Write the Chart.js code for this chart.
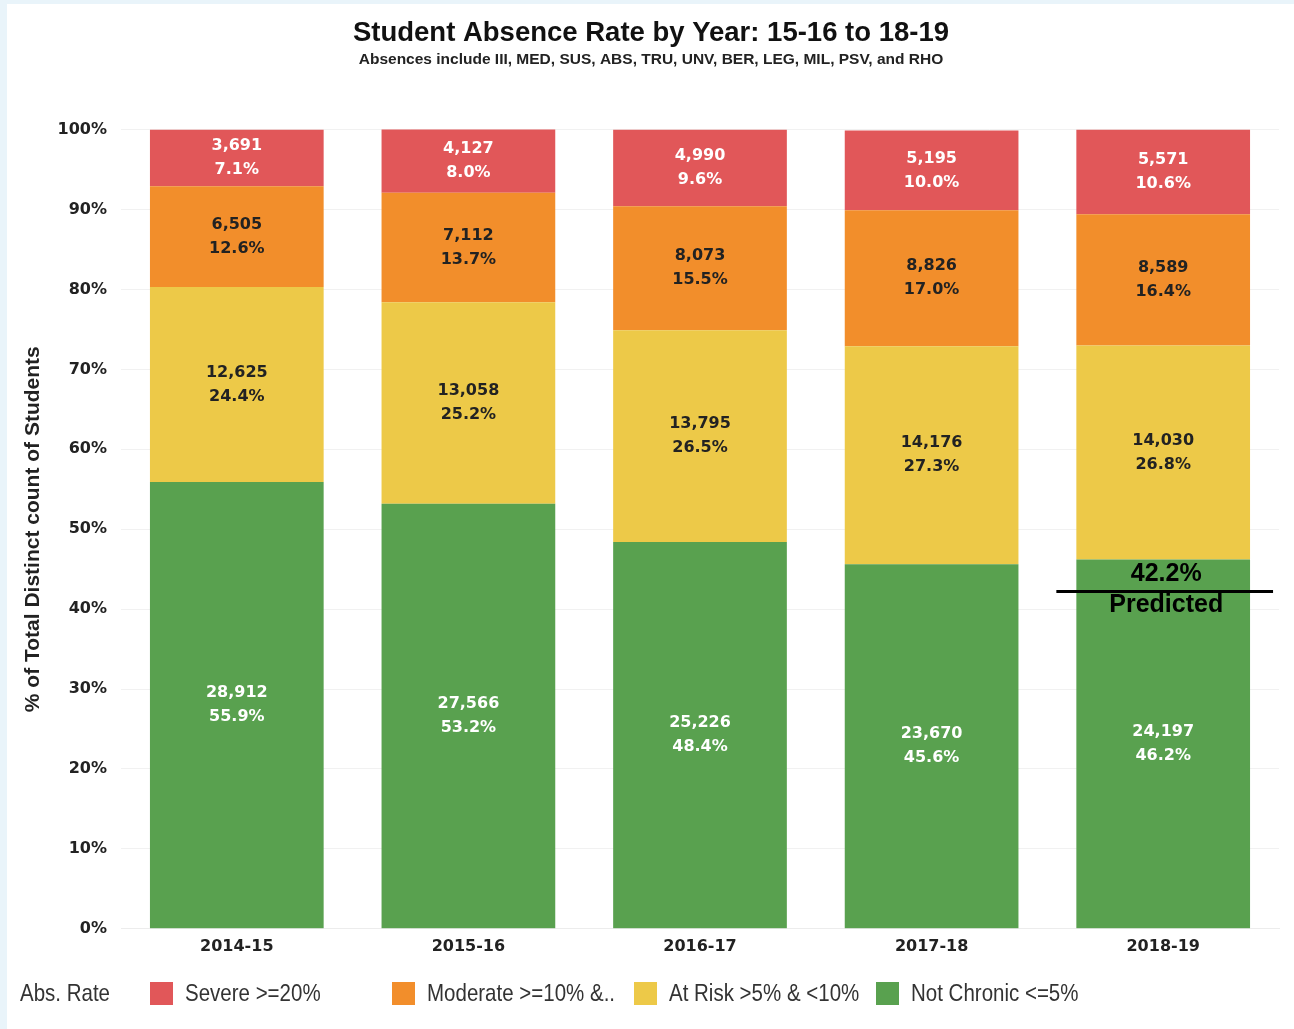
<!DOCTYPE html>
<html>
<head>
<meta charset="utf-8">
<title>Student Absence Rate by Year</title>
<script src="https://cdn.jsdelivr.net/npm/chart.js@4.4.1/dist/chart.umd.min.js"></script>
<style>
  html, body { margin: 0; padding: 0; background: #e9f4fa; width: 1294px; height: 1029px; overflow: hidden; }
  #fondo { position: absolute; left: 7px; top: 4px; width: 1287px; height: 1025px; background: #fff; }
  #grafico { position: absolute; left: 0; top: 0; }
  #leyenda { position: absolute; left: 0; top: 980px; width: 1294px; height: 26px;
             font-family: "Liberation Sans", Arial, sans-serif; font-size: 20.5px; color: #333; }
  #leyenda span.txt { position: absolute; top: 0; line-height: 26px; transform: scaleY(1.2); transform-origin: 0 50%; white-space: nowrap; }
  #leyenda span.caja { position: absolute; top: 2px; width: 23px; height: 23px; }
</style>
</head>
<body>
<div id="fondo"></div>
<canvas id="grafico" width="1294" height="1029"></canvas>
<div id="leyenda"></div>

<script>
// Años escolares
const anios = ['2014-15', '2015-16', '2016-17', '2017-18', '2018-19'];

// Categorías de ausentismo (de abajo hacia arriba en la barra)
const categorias = ['Not Chronic <=5%', 'At Risk >5% & <10%', 'Moderate >=10% &..', 'Severe >=20%'];
const colores = ['#59a14f', '#edc948', '#f28e2b', '#e15759'];
const colorTexto = ['#ffffff', '#222222', '#222222', '#ffffff'];

// Porcentaje del total de estudiantes
const pctNoCronico = [55.9, 53.2, 48.4, 45.6, 46.2];
const pctRiesgo    = [24.4, 25.2, 26.5, 27.3, 26.8];
const pctModerado  = [12.6, 13.7, 15.5, 17.0, 16.4];
const pctSevero    = [7.1, 8.0, 9.6, 10.0, 10.6];

// Conteo de estudiantes
const cntNoCronico = [28912, 27566, 25226, 23670, 24197];
const cntRiesgo    = [12625, 13058, 13795, 14176, 14030];
const cntModerado  = [6505, 7112, 8073, 8826, 8589];
const cntSevero    = [3691, 4127, 4990, 5195, 5571];

// Marcas del eje Y
const ticksY = [0, 10, 20, 30, 40, 50, 60, 70, 80, 90, 100];

// Valor proyectado para 2018-19
const prediccion = { anio: '2018-19', valor: 42.2 };

const porcentajes = [pctNoCronico, pctRiesgo, pctModerado, pctSevero];
const conteos = [cntNoCronico, cntRiesgo, cntModerado, cntSevero];

// Etiquetas dentro de cada segmento: conteo y porcentaje
const etiquetasBarras = {
  id: 'etiquetasBarras',
  afterDatasetsDraw(chart) {
    const ctx = chart.ctx;
    ctx.save();
    ctx.font = 'bold 16px "DejaVu Sans", sans-serif';
    ctx.textAlign = 'center';
    ctx.textBaseline = 'middle';
    chart.data.datasets.forEach((ds, i) => {
      const meta = chart.getDatasetMeta(i);
      ctx.fillStyle = colorTexto[i];
      meta.data.forEach((barra, j) => {
        const yc = (barra.y + barra.base) / 2;
        ctx.fillText(conteos[i][j].toLocaleString('en-US'), barra.x, yc - 12);
        ctx.fillText(porcentajes[i][j].toFixed(1) + '%', barra.x, yc + 12);
      });
    });
    ctx.restore();
  }
};

// Línea de predicción sobre la última barra
const lineaPrediccion = {
  id: 'lineaPrediccion',
  afterDraw(chart) {
    const ctx = chart.ctx;
    const idx = anios.indexOf(prediccion.anio);
    const barra = chart.getDatasetMeta(0).data[idx];
    const y = chart.scales.y.getPixelForValue(prediccion.valor);
    const x0 = barra.x - barra.width / 2 - 20;
    const x1 = barra.x + barra.width / 2 + 23;
    ctx.save();
    ctx.strokeStyle = '#000';
    ctx.lineWidth = 3;
    ctx.beginPath();
    ctx.moveTo(x0, y);
    ctx.lineTo(x1, y);
    ctx.stroke();
    ctx.fillStyle = '#000';
    ctx.font = 'bold 25px "Liberation Sans", Arial, sans-serif';
    ctx.textAlign = 'center';
    ctx.textBaseline = 'middle';
    ctx.fillText(prediccion.valor.toFixed(1) + '%', barra.x + 3, y - 17);
    ctx.fillText('Predicted', barra.x + 3, y + 14);
    ctx.restore();
  }
};

const datasets = categorias.map((nombre, i) => ({
  label: nombre,
  data: porcentajes[i],
  backgroundColor: colores[i],
  borderWidth: 0,
  barPercentage: 0.75,
  categoryPercentage: 1.0
}));

new Chart(document.getElementById('grafico').getContext('2d'), {
  type: 'bar',
  data: { labels: anios, datasets: datasets },
  options: {
    responsive: false,
    animation: false,
    layout: { padding: { left: 23, right: 15, top: 0, bottom: 65 } },
    plugins: {
      legend: { display: false },
      tooltip: { enabled: false },
      title: {
        display: true,
        text: 'Student Absence Rate by Year: 15-16 to 18-19',
        color: '#111',
        font: { family: '"Liberation Sans", Arial, sans-serif', size: 27.5, weight: 'bold' },
        padding: { top: 17, bottom: 0 }
      },
      subtitle: {
        display: true,
        text: 'Absences include III, MED, SUS, ABS, TRU, UNV, BER, LEG, MIL, PSV, and RHO',
        color: '#222',
        font: { family: '"Liberation Sans", Arial, sans-serif', size: 15.5, weight: 'bold' },
        padding: { top: 0, bottom: 61 }
      }
    },
    scales: {
      x: {
        stacked: true,
        grid: { display: false, drawTicks: false },
        border: { display: true, color: '#ececec' },
        ticks: {
          color: '#222',
          padding: 8,
          font: { family: '"DejaVu Sans", sans-serif', size: 16, weight: 'bold' }
        }
      },
      y: {
        stacked: true,
        min: 0,
        max: 100,
        afterFit(scale) { scale.width = 98; },
        afterBuildTicks(scale) { scale.ticks = ticksY.map(v => ({ value: v })); },
        grid: { color: '#f1f1f1', drawTicks: false },
        border: { display: false },
        ticks: {
          color: '#222',
          padding: 14,
          font: { family: '"DejaVu Sans", sans-serif', size: 16, weight: 'bold' },
          callback: v => v + '%'
        },
        title: {
          display: true,
          text: '% of Total Distinct count of Students',
          color: '#222',
          font: { family: '"Liberation Sans", Arial, sans-serif', size: 21, weight: 'bold' },
          padding: { top: -2, bottom: 0 }
        }
      }
    }
  },
  plugins: [etiquetasBarras, lineaPrediccion]
});

// Leyenda inferior, en el orden Severe → Not Chronic
const leyenda = document.getElementById('leyenda');
const titulo = document.createElement('span');
titulo.className = 'txt';
titulo.style.left = '20px';
titulo.textContent = 'Abs. Rate';
leyenda.appendChild(titulo);
[3, 2, 1, 0].forEach((i, k) => {
  const x = 150 + k * 242;
  const caja = document.createElement('span');
  caja.className = 'caja';
  caja.style.left = x + 'px';
  caja.style.background = colores[i];
  leyenda.appendChild(caja);
  const txt = document.createElement('span');
  txt.className = 'txt';
  txt.style.left = (x + 35) + 'px';
  txt.textContent = categorias[i];
  leyenda.appendChild(txt);
});
</script>
</body>
</html>
